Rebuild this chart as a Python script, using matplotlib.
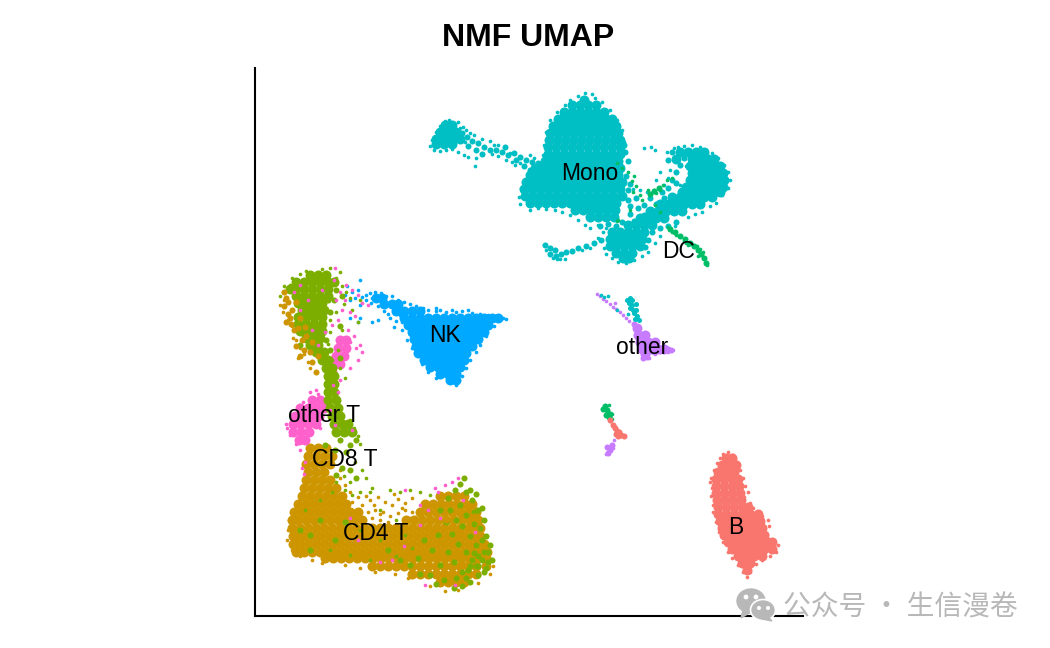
import numpy as np
import matplotlib
matplotlib.use('Agg')
import matplotlib.pyplot as plt
from matplotlib.patches import Ellipse, Polygon

# Embedding positions, {row: [positions]}
mono_core = {
    100: [584], 105: [572, 580, 588, 596], 112: [564, 572, 580, 588, 596, 604],
    119: [558, 566, 574, 582, 590, 598, 606, 612],
    126: [553, 561, 569, 577, 585, 593, 601, 609, 616],
    133: [550, 558, 566, 574, 582, 590, 598, 606, 614, 618],
    140: [549, 557, 565, 573, 581, 589, 597, 605, 613, 620],
    147: [548, 556, 564, 572, 580, 588, 596, 604, 612, 620],
    154: [548, 556, 564, 572, 580, 588, 596, 604, 612, 620],
    161: [545, 553, 561, 569, 577, 585, 593, 601, 609, 618],
    168: [535, 543, 551, 559, 567, 575, 583, 591, 599, 607, 615, 620],
    175: [530, 538, 546, 554, 562, 570, 578, 586, 594, 602, 610, 618],
    182: [526, 534, 542, 550, 558, 566, 574, 582, 590, 598, 606, 614, 622],
    189: [524, 532, 540, 548, 556, 564, 572, 580, 588, 596, 604, 612, 620],
    196: [525, 533, 541, 549, 557, 565, 573, 581, 589, 597, 605, 613, 622],
    203: [530, 538, 546, 554, 562, 570, 578, 586, 594, 602, 610, 616],
    210: [575, 583, 591, 599, 607, 615], 217: [590, 598, 606, 614],
    225: [628, 636, 644, 652], 232: [612, 620, 628, 636, 644],
    239: [610, 618, 626, 634, 642], 246: [610, 616, 624, 632, 640],
    253: [616, 624, 632], 258: [623, 629],
    218: [640, 648, 656, 664], 211: [650, 658, 666, 674, 682],
    204: [660, 668, 676, 684, 692, 700], 197: [672, 680, 688, 696, 704, 712],
    152: [680, 688, 696, 704], 159: [676, 692, 700, 708, 714],
    166: [690, 698, 706, 714, 720], 173: [692, 700, 708, 716, 723],
    180: [690, 698, 704, 712, 720, 724], 187: [686, 694, 702, 710, 718, 723],
    192: [682, 690, 698, 706, 714, 720],
    125: [445, 452], 132: [440, 448, 456], 139: [436, 444, 452, 460], 144: [436, 444, 452],
}
mono_mid = [(462,133),(467,137),(472,141),(478,143),(484,147),(490,150),(496,150),(502,152),(508,155),(514,153),
    (520,157),(526,160),(532,162),(538,163),(468,146),(476,150),(482,154),(505,147),(516,160),(524,166),
    (530,170),(545,245),(550,248),(555,250),(550,254),(556,256),(561,254),(566,252),(572,251),(578,248),
    (586,246),(594,243),(601,240),(628,190),(636,198),(628,200),(638,208),(630,214),(622,222),(616,226),
    (608,224),(630,206),(644,205),(650,198),(644,215),(634,221),(600,226),(662,192),(668,188),(672,180),
    (676,172),(680,165),(668,160),(672,152),(684,158),(676,183),(664,198),(656,204),(626,176),(630,184),
    (676,222),(668,226),(660,228),(652,232),(648,240),(645,247),(628,161),(625,152),(624,145)]
mono_dots = [(466,130),(470,133),(474,135),(482,139),(490,141),(494,145),(498,145),(510,153),(530,155),(534,158),
    (506,160),(512,162),(520,163),(465,142),(460,128),(463,127),(458,122),(449,120),(445,121),(440,126),
    (436,132),(432,140),(430,146),(434,150),(440,151),(446,150),(452,149),(458,152),(464,155),(468,157),
    (476,158),(475,166),(515,165),(492,154),(498,156),(544,245),(546,250),(560,259),(565,259),(553,258),
    (557,259),(582,250),(590,248),(598,238),(633,189),(640,190),(647,192),(654,190),(656,180),(660,172),
    (664,185),(668,178),(670,170),(644,148),(651,147),(655,150),(667,152),(674,148),(678,147),(684,146),
    (692,145),(700,147),(706,150),(712,153),(718,158),(724,165),(728,172),(730,180),(728,188),(722,195),
    (716,203),(710,206),(702,212),(695,214),(688,217),(675,226),(686,166),(680,185),(598,225),(590,228),
    (603,232),(606,228),(600,240),(604,248),(606,254),(612,258),(618,262),(626,263),(634,260),(642,256),
    (648,252),(530,210),(538,208),(546,209),(555,210),(562,212),(520,204),(519,197),(521,188),(570,215),
    (578,220),(585,225),(576,212),(585,93),(578,96),(570,100),(595,98),(602,102),(610,110),(617,120),
    (622,130),(624,142),(550,120),(546,132),(544,145),(543,155),(541,165),(536,170),(592,94),(565,105),
    (557,112),(655,243),(660,236)]

nk_core = {
    298: [376, 382], 304: [384, 392, 398], 311: [396, 404, 412, 420],
    318: [404, 412, 420, 428, 436, 444, 452, 460, 468, 476, 484, 492, 498],
    325: [408, 416, 424, 432, 440, 448, 456, 464, 472, 480, 488],
    332: [412, 420, 428, 436, 444, 452, 460, 468, 476, 484],
    339: [414, 422, 430, 438, 446, 454, 462, 470, 478],
    346: [416, 424, 432, 440, 448, 456, 464, 472],
    353: [418, 426, 434, 442, 450, 458, 466], 360: [424, 432, 440, 448, 456, 464],
    367: [430, 438, 446, 454, 460], 374: [440, 448, 456], 380: [450, 456],
}
nk_dots = [(347,286),(352,292),(358,290),(362,297),(366,295),(370,293),(375,292),(381,293),(386,296),(392,296),
    (398,300),(404,302),(410,304),(416,306),(423,308),(428,310),(436,311),(440,310),(446,312),(452,310),
    (436,308),(456,312),(462,311),(468,310),(472,313),(480,314),(488,315),(496,316),(503,318),(506,319),
    (371,303),(378,306),(384,311),(390,318),(396,321),(350,300),(360,305),(378,320),(360,318),(358,322),
    (372,322),(350,318),(345,295),(360,280),(355,298),(388,314),(394,327),(402,330),(407,340),(412,348),
    (366,300),(372,298),(378,300),(388,304),(394,308),(400,315),(402,322),(494,326),(486,336),(480,345),
    (476,352),(470,360),(466,368),(462,376),(456,385),(422,364),(428,372),(436,378)]

b_core = {
    458: [726, 732], 465: [722, 730, 736], 472: [718, 726, 734], 479: [716, 724, 732, 738],
    486: [716, 724, 732, 739], 493: [716, 724, 732, 740], 500: [717, 725, 733, 741],
    507: [718, 726, 734, 742, 748], 514: [718, 726, 734, 742, 750, 758],
    521: [720, 728, 736, 744, 752, 760], 528: [722, 730, 738, 746, 754, 762],
    535: [724, 732, 740, 748, 756, 764], 542: [728, 736, 744, 752, 760, 768, 772],
    549: [732, 740, 748, 756, 764, 772], 556: [738, 746, 754, 762], 563: [742, 750], 570: [747],
}
b_dots = [(728,452),(723,454),(733,455),(737,462),(740,470),(743,478),(745,486),(748,492),(744,497),(750,503),
    (753,508),(757,512),(762,516),(768,520),(769,526),(767,534),(773,540),(778,545),(776,552),(770,556),
    (762,560),(756,564),(750,572),(747,577),(743,572),(738,565),(732,558),(728,552),(710,482),(712,488),
    (711,496),(713,505),(713,512),(716,522),(719,532),(723,542),(711,478),(714,470),(717,463),(720,458)]

cd4_core = {
    448: [310, 318, 326], 456: [308, 316, 324, 332], 464: [306, 314, 322, 330], 472: [308, 316, 324],
    480: [306, 314, 322, 330], 488: [304, 312, 320, 328, 336],
    496: [302, 310, 318, 326, 334, 342, 440, 448, 456, 464],
    504: [298, 306, 314, 322, 330, 338, 346, 425, 433, 441, 449, 457, 465, 472],
    512: [294, 302, 310, 318, 326, 334, 342, 350, 358, 420, 428, 436, 444, 452, 460, 468, 476],
    520: [292, 298, 306, 314, 322, 330, 338, 346, 354, 362, 406, 414, 422, 430, 438, 446, 454, 462, 470, 478],
    528: [292, 300, 308, 316, 324, 332, 340, 348, 356, 364, 372, 380, 388, 396, 404, 412, 420, 428, 436, 444, 452, 460, 468, 476, 480],
    536: [293, 296, 304, 312, 320, 328, 336, 344, 352, 360, 368, 376, 384, 392, 400, 408, 416, 424, 432, 440, 448, 456, 464, 472, 480],
    544: [293, 300, 308, 316, 324, 332, 340, 348, 356, 364, 372, 380, 388, 396, 404, 412, 420, 428, 436, 444, 452, 460, 468, 476, 484],
    552: [296, 304, 312, 320, 328, 336, 344, 352, 360, 368, 376, 384, 392, 400, 408, 416, 424, 432, 440, 448, 456, 464, 472, 480, 487],
    558: [325, 333, 341, 349, 357, 365, 373, 381, 389, 397, 405, 413, 421, 429, 437, 445, 453, 461, 469, 477, 486],
    566: [372, 380, 388, 396, 404, 412, 420, 428, 436, 444, 452, 460, 468, 476, 486],
    574: [412, 420, 428, 436, 444, 452, 460, 468, 476], 582: [440, 448, 456, 464],
}
cd4_dots = [(370,500),(378,497),(385,502),(392,505),(398,499),(405,503),(412,498),(362,505),(368,512),(375,510),
    (383,512),(390,516),(398,513),(405,510),(412,512),(372,518),(380,520),(388,522),(350,492),(358,497),
    (345,485),(340,478),(288,530),(289,520),(287,540),(292,550),(300,556),(312,560),(322,563),(345,565),
    (360,568),(375,572),(395,574),(408,578),(430,586),(445,591),(458,590),(478,583),(490,574),(493,566),
    (280,305),(284,300),(283,312),(288,320),(292,326),(296,340),(300,348),(304,354),(293,338),(298,358),
    (308,362),(310,368),(366,496),(374,505),(394,494),(402,508),(380,514),(410,518),(352,502),(340,470)]
cd4_mid = [(286,298),(284,306),(288,314),(286,322),(290,318),(294,330),(296,346),(304,350),(312,362),(302,340),
    (292,310),(288,302),(306,336),(298,328),(316,372),(300,356),(310,352),(296,302),(300,318),(291,324),
    (305,327),(284,292),(312,342),(318,356),(446,520),(458,532),(470,546),(462,562),(452,574),(474,516),
    (440,540),(432,530),(444,560)]

cd8_core = {
    275: [310, 318, 326], 282: [296, 304, 312, 320, 328, 334], 289: [290, 296, 304, 312, 320, 328],
    296: [296, 304, 312, 320, 328], 303: [298, 306, 314, 322], 310: [302, 310, 318, 324],
    317: [298, 306, 314, 322], 324: [298, 306, 314, 322], 331: [300, 308, 316, 322],
    338: [306, 314, 320], 345: [310, 318], 352: [316, 324], 360: [322, 328], 368: [326, 332],
    376: [328, 334], 384: [328, 334], 392: [328, 334], 400: [328, 336], 408: [330, 338],
    416: [332, 340], 424: [334, 342, 348], 432: [336, 344, 352],
}
cd8_mid = [(472,500),(478,510),(484,520),(480,528),(486,536),(490,545),(484,552),(492,560),(486,568),(478,575),
    (470,582),(462,586),(454,588),(472,560),(466,552),(476,545),(470,536),(474,524),(466,515),(460,505),
    (455,490),(448,498),(460,484),(466,492),(440,510),(446,522),(452,534),(458,544),(448,552),(454,562),
    (462,572),(440,565),(432,550),(438,535),(424,540),(418,558),(430,575),(410,565),(476,566),(482,560),
    (488,552),(468,570),(474,512),(462,526),(444,580),(436,584),(420,574),(400,560),(388,550),(350,445),
    (340,440),(346,452),(335,450),(356,440),(325,445),(350,470),(342,468),(336,475),(356,478),(310,535),
    (320,520),(335,540),(345,522),(300,530),(310,550),(484,572),(478,556),(470,566),(488,562),(482,540),
    (474,553),(466,578),(456,578),(478,566),(482,508),(476,494),(470,490),(464,478),(450,510),(456,520),
    (340,326),(334,300),(336,290),(342,296),(330,312),(328,300),(300,345),(326,340),(330,350),(340,358)]
cd8_dots = [(340,272),(336,278),(342,286),(346,292),(350,298),(344,304),(336,312),(330,320),(330,332),(328,344),
    (338,350),(332,360),(340,368),(345,378),(350,420),(354,428),(358,436),(360,444),(355,462),(362,470),
    (366,478),(372,488),(345,490),(352,495),(390,490),(410,490),(420,492),(430,495),(380,510),(396,520),
    (290,285),(283,292),(300,274),(330,268),(322,269),(360,300),(352,310),(358,322),(342,330),(360,492),
    (280,296),(284,286),(292,278),(306,271),(370,492),(400,492),(336,482),(344,476),(350,482),(332,492),
    (320,500),(305,510),(360,530),(380,540),(396,556),(370,560),(350,555),(330,550),(405,535),(412,548)]

other_t_core = {
    400: [312, 320], 408: [300, 308, 316, 324], 416: [295, 303, 311, 319], 424: [293, 300, 308, 316],
    432: [293, 301, 309], 440: [299, 305], 340: [340, 346], 348: [338, 346], 356: [336, 344],
    364: [334, 340], 372: [332],
}
other_t_dots = [(287,428),(290,435),(296,444),(300,450),(305,462),(302,468),(304,474),(310,392),(318,394),(330,410),
    (335,425),(342,338),(350,342),(356,348),(362,352),(358,360),(350,368),(340,380),(333,385),(338,392),
    (336,300),(340,292),(346,285),(352,290),(358,295),(362,303),(368,305),(345,300),(342,310),(350,312),
    (355,316),(335,268),(332,325),(325,332),(318,345),(312,330),(300,310),(294,292),(405,490),(420,505),
    (435,488),(445,485),(452,482),(458,478),(438,492),(428,510),(440,518),(420,525),(404,546),(392,560),
    (358,540),(350,518),(380,562),(425,585),(455,585),(463,500),(475,532),(352,430),(320,428),(286,424),
    (316,390),(303,402),(300,285),(322,290),(308,300),(334,280),(338,320),(348,330),(354,336),(360,345)]

dc_mid = [(670,229),(675,232),(680,236),(685,239),(690,243),(694,246),(698,250),(701,254),(704,258),(706,263),
    (603,409),(607,410),(610,414),(606,415),(605,406),(609,417),(654,191),(659,188),(650,194)]
dc_dots = [(668,227),(672,232),(676,235),(684,241),(688,245),(697,246),(700,249),(703,252),(686,243),(698,256),
    (617,163),(622,168),(628,172),(634,176),(632,181),(636,186),(633,192),(630,210),(618,220),(617,221),
    (640,195),(663,185),(667,180),(672,178),(648,190),(656,193),(660,190),(642,200),(655,205),(660,212),
    (612,419),(609,405),(612,414),(707,265)]

other_core = {328: [637], 335: [638, 645], 342: [640, 648, 655], 349: [642, 650, 658, 664], 354: [645]}
other_mid = [(634,324),(668,349),(671,350),(643,358),(647,357),(607,447),(610,450),(608,453),(612,445),(660,351),(654,352)]
other_dots = [(597,294),(600,296),(603,299),(606,301),(610,304),(613,307),(616,309),(620,312),(623,315),(626,318),
    (615,303),(629,321),(673,350),(668,352),(655,354),(649,358),(614,440),(611,445),(613,448),(606,454),(609,448)]
small_mono_mid = [(627,300),(630,298),(632,300),(629,303),(632,305),(630,308),(633,310),(636,304),(634,313),(637,316),
    (636,310),(639,320),(635,319)]
small_mono_dots = [(601,295),(604,297),(608,296),(617,310),(628,314)]
small_b = [(610,420),(613,425),(615,428),(617,431),(616,434),(619,432),(621,435),(624,436),(618,436)]

labels = ['Mono', 'DC', 'NK', 'other', 'other T', 'CD8 T', 'CD4 T', 'B']
label_x = [590, 679, 445, 642, 324, 345, 376, 736]
label_y = [174, 252, 336, 348, 416, 460, 534, 527]

colors = {'B': '#F8766D', 'CD4 T': '#CD9600', 'CD8 T': '#7CAE00', 'DC': '#00BE67',
          'Mono': '#00BFC4', 'NK': '#00A9FF', 'other': '#C77CFF', 'other T': '#FF61CC'}


def rows_to_xy(rows):
    return [(x, y) for y, xs in rows.items() for x in xs]


def draw(ax, points, name, size):
    pts = np.array(points)
    ax.scatter(pts[:, 0], pts[:, 1], s=size, c=colors[name], linewidths=0)


fig = plt.figure(figsize=(10.5, 6.48), dpi=100)
ax = fig.add_axes([255 / 1050, 32 / 648, 548 / 1050, 548 / 648])
ax.set_xlim(255, 803)
ax.set_ylim(616, 68)

# big blobs fill the body of each cluster, small dots make the loose edges
core_size = 52
mid_size = 19
dot_size = 7

draw(ax, rows_to_xy(mono_core), 'Mono', core_size)
draw(ax, mono_mid, 'Mono', mid_size)
draw(ax, mono_dots, 'Mono', dot_size)
draw(ax, rows_to_xy(nk_core), 'NK', core_size)
draw(ax, nk_dots, 'NK', dot_size)
draw(ax, rows_to_xy(b_core), 'B', core_size)
draw(ax, b_dots, 'B', dot_size)
draw(ax, rows_to_xy(cd4_core), 'CD4 T', core_size)
draw(ax, cd4_dots, 'CD4 T', dot_size)
draw(ax, rows_to_xy(other_t_core), 'other T', core_size)
draw(ax, rows_to_xy(cd8_core), 'CD8 T', core_size)
draw(ax, cd8_mid, 'CD8 T', mid_size)
draw(ax, cd8_dots, 'CD8 T', dot_size)
draw(ax, cd4_mid, 'CD4 T', mid_size)
draw(ax, other_t_dots, 'other T', dot_size)
draw(ax, dc_mid, 'DC', mid_size)
draw(ax, dc_dots, 'DC', dot_size)
draw(ax, rows_to_xy(other_core), 'other', core_size)
draw(ax, other_mid, 'other', mid_size)
draw(ax, other_dots, 'other', dot_size)
draw(ax, small_mono_mid, 'Mono', mid_size * 0.7)
draw(ax, small_mono_dots, 'Mono', dot_size)
draw(ax, small_b, 'B', mid_size)

for name, x, y in zip(labels, label_x, label_y):
    ax.text(x, y, name, ha='center', va='center', fontsize=16.5, family='Liberation Sans', color='black')

ax.set_xticks([])
ax.set_yticks([])
ax.spines['top'].set_visible(False)
ax.spines['right'].set_visible(False)
ax.spines['left'].set_linewidth(1.5)
ax.spines['bottom'].set_linewidth(1.5)

fig.text(528.5 / 1050, 1 - 38 / 648, 'NMF UMAP', ha='center', va='center', fontsize=23,
         fontweight='bold', family='Liberation Sans')

# watermark
grey = '#B8B8B8'
ax.add_patch(Ellipse((751, 601), 28, 24, color=grey, clip_on=False, zorder=5))
ax.add_patch(Polygon([(743, 610), (741, 618), (751, 612)], color=grey, clip_on=False, zorder=5))
ax.add_patch(Ellipse((763, 610), 25, 21, color=grey, ec='white', lw=1.2, clip_on=False, zorder=6))
ax.add_patch(Polygon([(768, 617), (772, 621), (762, 619)], color=grey, clip_on=False, zorder=6))
for ex, ey, er in [(746, 597, 3.4), (756, 597, 3.4), (759, 608, 2.6), (768, 608, 2.6)]:
    ax.add_patch(Ellipse((ex, ey), er, er, color='white', clip_on=False, zorder=7))
ax.text(783, 607.5, '公众号 · 生信漫卷', ha='left', va='center', fontsize=20, color=grey,
        family=['Noto Sans CJK SC', 'DejaVu Sans'], clip_on=False, zorder=7)

fig.savefig('out.png', dpi=100)
